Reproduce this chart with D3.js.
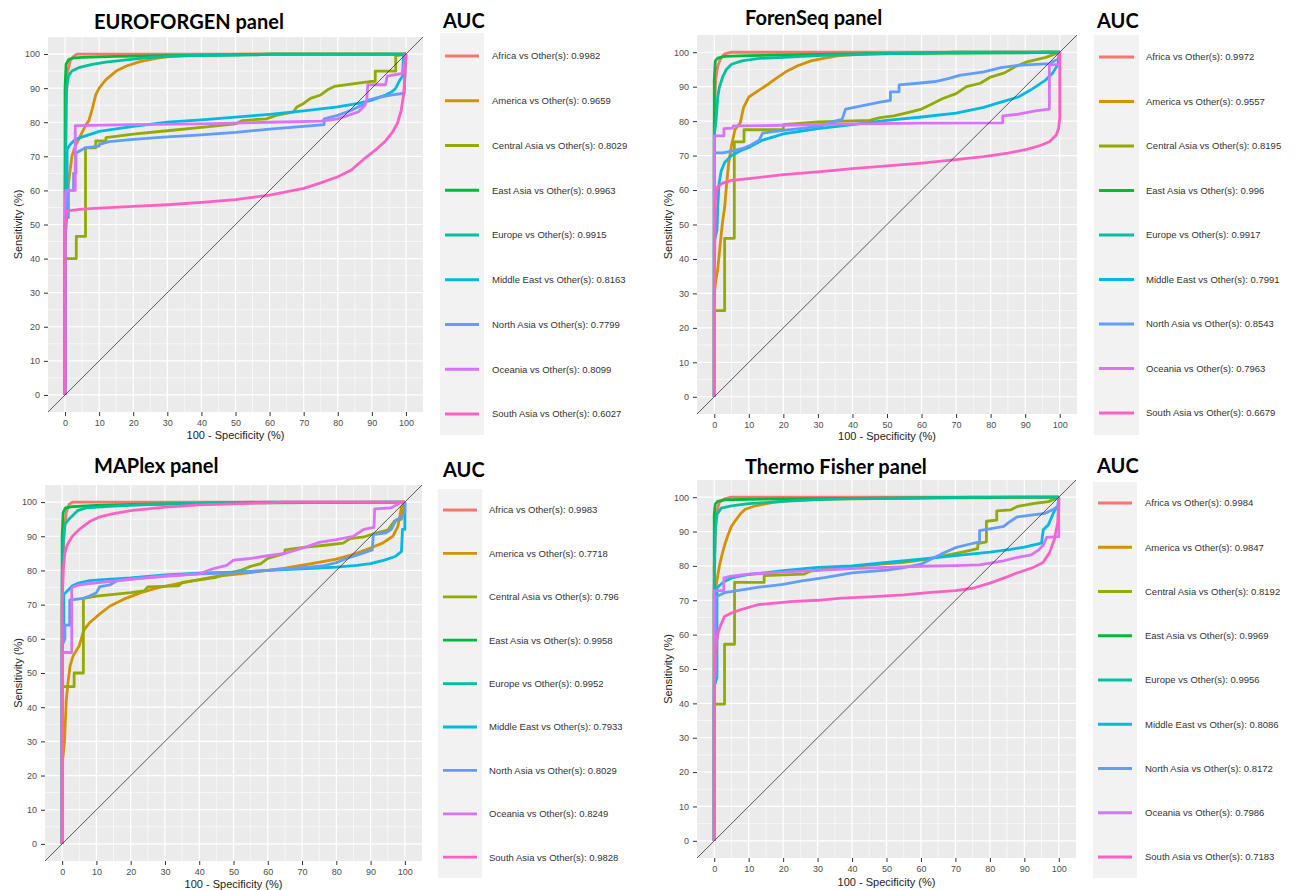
<!DOCTYPE html>
<html lang="en">
	<head>
		<meta charset="UTF-8" />
		<title>ROC curves by panel</title>
		<script src="https://d3js.org/d3.v7.min.js"></script>
		<style>
			body {
				margin: 0;
				background: #fff;
			}
			svg {
				display: block;
			}
			.tick text {
				font-family: 'Liberation Sans', Arial, sans-serif;
				font-size: 9px;
				fill: #4d4d4d;
			}
			.tick line {
				stroke: #333;
			}
			.panel-title,
			.auc-title {
				font-family: Lato, 'Open Sans', sans-serif;
				font-weight: bold;
				font-size: 20px;
				fill: #000;
			}
			.axis-title {
				font-family: 'Liberation Sans', Arial, sans-serif;
				font-size: 11px;
				fill: #222;
			}
			.legend-label {
				font-family: 'Liberation Sans', Arial, sans-serif;
				font-size: 9.5px;
				fill: #333;
			}
		</style>
	</head>
	<body>
		<svg id="chart" width="1296" height="890"></svg>

		<script>
			// categories and their ggplot hue colours
			const regions = ['Africa', 'America', 'Central Asia', 'East Asia', 'Europe', 'Middle East', 'North Asia', 'Oceania', 'South Asia']
			const regionColors = ['#F8766D', '#D39200', '#93AA00', '#00BA38', '#00C19F', '#00B9E3', '#619CFF', '#DB72FB', '#FF61C3']

			const panelTitles = ['EUROFORGEN panel', 'ForenSeq panel', 'MAPlex panel', 'Thermo Fisher panel']
			const axisTicks = [0, 10, 20, 30, 40, 50, 60, 70, 80, 90, 100]

			// AUC per region, same order as regions
			const aucEuroforgen = ['0.9982', '0.9659', '0.8029', '0.9963', '0.9915', '0.8163', '0.7799', '0.8099', '0.6027']
			const aucForenseq = ['0.9972', '0.9557', '0.8195', '0.996', '0.9917', '0.7991', '0.8543', '0.7963', '0.6679']
			const aucMaplex = ['0.9983', '0.7718', '0.796', '0.9958', '0.9952', '0.7933', '0.8029', '0.8249', '0.9828']
			const aucThermo = ['0.9984', '0.9847', '0.8192', '0.9969', '0.9956', '0.8086', '0.8172', '0.7986', '0.7183']

			// ROC points [100 - specificity, sensitivity]
			const rocEuroforgen = [
				[[0,0],[0,60],[0.3,85],[0.8,95],[1.5,98],[2.5,99.3],[3.5,100],[100,100]],
				[[0,0],[0,45],[0.5,52],[1,62],[1.5,66],[2,70],[3,73],[4,75],[5,77],[6,79],[7,80.5],[8,84],[9,88],[10,90],[12,92.5],[15,95],[18,96.5],[22,97.8],[27,98.8],[32,99.5],[40,99.8],[55,100],[100,100]],
				[[0,0],[0,40],[3.3,40],[3.3,46.5],[6,46.5],[6,72.5],[9,72.5],[9,74.5],[12,74.5],[12,75.5],[20,76.5],[30,77.5],[40,78.5],[50,79.5],[52,80.5],[59,81],[62,82],[67,83],[68,84.5],[70,85.5],[72,87],[75,88],[77,89.5],[79,90.5],[86,91.5],[90,92],[91,92],[91,95],[97,95],[97,99.5],[100,100]],
				[[0,0],[0,90],[0.3,97],[1,98.3],[2,98.8],[5,99],[15,99.3],[30,99.5],[57,99.8],[60,100],[100,100]],
				[[0,0],[0.2,70],[0.4,90],[1,93.5],[2,95],[4,96],[8,97],[12,97.6],[18,98.3],[25,99],[35,99.5],[50,99.8],[60,100],[100,100]],
				[[0,0],[0,50],[0.6,52],[0.6,72],[1.5,73.5],[3,75],[6,76],[10,77.3],[20,78.8],[30,80],[40,80.7],[50,81.5],[60,82.3],[70,83.3],[80,84.5],[86,85.5],[90,86.5],[94,88],[96,89],[97,90],[98,92],[99,93.5],[99.3,100],[100,100]],
				[[0,0],[0,52],[1,52],[1,60],[2.5,60],[2.5,65],[3.2,65],[3.2,71],[6,72.5],[10,73],[10,73.5],[13,74.3],[20,75],[30,75.7],[40,76.3],[50,77],[60,78],[70,78.8],[76,79.3],[76,81],[80,82],[84,83.5],[87,85],[89,86.5],[92,87.3],[96,88],[99.5,88.5],[100,100]],
				[[0,0],[0,54],[0.2,60],[3,60],[3,79],[20,79.3],[40,79.5],[60,80],[75,80.3],[80,81],[83,82],[86,83],[88,85],[88.5,86.5],[88.8,91],[94,91],[94.5,93.5],[99,94.3],[100,100]],
				[[0,0],[0,50],[0.5,54],[5,54.5],[10,54.8],[20,55.3],[30,55.8],[40,56.5],[50,57.3],[60,58.6],[70,60.6],[75,62.2],[80,64],[84,66],[88,69.5],[91,71.8],[94,74.5],[96,77],[97.5,79.7],[98.6,83.5],[99.3,88],[99.6,92],[100,100]]
			]

			const rocForenseq = [
				[[0,0],[0,80],[0.4,92],[1,96],[2,98.5],[3,99.5],[5,100],[100,100]],
				[[0,0],[0,30],[0.5,34],[1,37],[1.5,42],[2.3,50],[3,55],[3.6,62],[4.2,68],[5,73],[6,77.5],[7.5,79.5],[8.5,84],[10,87],[13,89],[16,91],[18,92.5],[21,94.5],[24,96],[28,97.5],[32,98.3],[36,99],[45,99.5],[60,99.8],[70,100],[100,100]],
				[[0,0],[0,25],[3,25],[3,46],[5.8,46],[5.8,74],[8.6,74],[8.6,77.5],[20,77.5],[20,79],[30,79.8],[45,80.2],[48,81],[52,81.5],[56,82.5],[60,83.5],[63,85],[66,86.5],[70,88],[73,90],[77,91],[80,92.8],[84,94],[87.5,96],[90.5,97.2],[96,98.5],[100,100]],
				[[0,0],[0,92],[0.3,97.5],[1,98.3],[3,98.8],[10,99],[25,99.3],[45,99.6],[90,99.8],[95,100],[100,100]],
				[[0,0],[0,76],[0.5,80],[1,87],[1.5,90],[2.5,93],[3.5,95],[5,96.5],[8,97.5],[13,98.2],[20,98.5],[30,99],[40,99.3],[55,99.7],[70,100],[100,100]],
				[[0,0],[0,45],[0.8,48.5],[1,55],[1.4,62],[2,65.5],[3,68],[5,70],[8,71.6],[10.5,72.6],[14,74.5],[20,76.3],[30,77.8],[40,79],[50,80.2],[60,81.2],[70,82.3],[78,84],[83,85.5],[88,87],[92,89.3],[96,92],[98,94],[99.5,96.5],[100,100]],
				[[0,0],[0,70.8],[2.5,70.8],[5,71.3],[8,72],[10.5,73],[13,74.5],[14,76.5],[20,77.3],[26,78],[31,78.6],[34,79.8],[37,80.5],[38,83.5],[43,84.5],[48,85.5],[51,86],[51,88.5],[53.5,88.5],[53.5,90.5],[59,91],[64,91.5],[68,92.4],[71,93.3],[78,94.3],[83,95.5],[88,96.2],[97,96.7],[99.5,98],[100,100]],
				[[0,0],[0,75.7],[2.8,75.7],[2.8,77.8],[5.3,78],[5.5,78.6],[20,78.8],[40,79.2],[60,79.4],[83.5,79.5],[83.5,81.5],[88,82],[93,83],[97,83.5],[97,96.3],[100,96.5],[100,100]],
				[[0,0],[0,30],[0.3,57],[1,61],[2.4,62],[5,62.8],[10,63.3],[20,64.5],[30,65.3],[40,66.2],[50,67],[60,67.8],[70,68.8],[78,69.7],[85,70.7],[90,71.7],[94,72.8],[97,74],[99,76],[99.7,78],[100,81],[100,100]]
			]

			const rocMaplex = [
				[[0,0],[0,70],[0.5,90],[1.2,97],[2,99.3],[3,100],[100,100]],
				[[0,0],[0,23],[0.7,30],[1.2,42],[1.8,48],[2.3,52],[3.2,55],[5,58],[6.3,62.5],[8,64.7],[11,67.3],[14,69.6],[18,71.6],[23,73.5],[28,75],[35,76.4],[45,78.3],[55,79.4],[65,80.7],[74,82.2],[80,83.3],[85,84.7],[89,86.2],[93.5,88],[96.5,90],[98,93],[99,98.5],[100,100]],
				[[0,0],[0,46],[3.5,46],[3.5,50],[6.2,50],[6.2,71.8],[10,72.5],[15,73],[20,73.5],[24,74],[25,75.2],[34,75.5],[35,76.5],[45,78],[48,79],[52,80],[55,81.2],[58,82],[60,83.5],[65,85],[65,86],[71,86.8],[76,87.3],[82,88],[84,89.3],[88,89.8],[91,90.8],[95,91.8],[97,94.5],[99,95],[100,100]],
				[[0,0],[0,90],[0.3,97],[1,98.3],[3,98.7],[10,99],[20,99.3],[40,99.6],[60,99.8],[100,100]],
				[[0,0],[0,77],[0.3,88],[0.8,93.5],[2,95],[3,96],[4.5,97.5],[7,98.3],[15,98.8],[25,99.3],[40,99.7],[60,100],[100,100]],
				[[0,0],[0,58],[0.5,60],[0.5,73],[1.5,74],[3,75.5],[5,76.4],[8,77],[12,77.3],[20,77.8],[30,78.7],[40,79.2],[50,79.5],[60,80],[70,80.5],[80,81],[86,81.5],[90,82],[94,83],[97,84],[99,85.5],[99.3,92],[100,92],[100,100]],
				[[0,0],[0,58],[0.8,60],[0.8,64],[2.2,64],[2.2,71.3],[6,71.8],[8,72.5],[10,73.5],[11,75.3],[14,75.8],[16,77],[20,77.5],[30,78.5],[40,79],[50,79.3],[60,80],[70,80.8],[76,81.3],[80,82.3],[83,83.5],[86,84.5],[89,85.5],[90.5,86],[90.8,90.5],[94.5,91],[96,92],[97.5,94.8],[99,95.5],[100,97],[100,100]],
				[[0,0],[0,56],[2.8,56],[2.8,75],[5,75.8],[10,76.4],[20,77.4],[30,78.3],[40,79],[44,80.5],[48,81.5],[50,83],[55,83.5],[60,84.3],[65,85],[70,86.5],[75,88.2],[80,89],[85,90],[88,92],[91,92.6],[91.2,98],[96,98.3],[99,100],[100,100]],
				[[0,0],[0,70],[0.3,80],[0.8,85],[1.5,87.5],[3,90],[5,92],[8,94.3],[11,95.7],[15,96.6],[20,97.5],[25,98],[30,98.5],[40,99.2],[50,99.5],[60,99.8],[65,100],[100,100]]
			]

			const rocThermo = [
				[[0,0],[0,80],[0.5,95],[1.5,98.5],[3,99.5],[5,100],[100,100]],
				[[0,0],[0,72],[0.5,74],[1,77],[1.5,80],[2.2,83],[3,86],[4,89],[5,91.5],[6,93],[7.5,95],[9,96.5],[12,97.5],[17,98.5],[22,99],[30,99.4],[40,99.5],[60,99.7],[100,100]],
				[[0,0],[0,39.8],[3,39.8],[3,57.2],[5.9,57.2],[5.9,75.2],[14.5,75.2],[14.5,77.2],[26,77.6],[28,78.5],[35,79.5],[45,80.2],[55,81],[62,82],[67,83],[72,84],[76.5,85],[76.5,86.5],[79,87],[79,93],[82,93.3],[82,96],[86,96.3],[88,97.3],[93,98.2],[97,98.7],[100,100]],
				[[0,0],[0,95],[0.3,98],[1,98.8],[3,99.2],[10,99.4],[30,99.6],[60,99.8],[88,100],[100,100]],
				[[0,0],[0,73],[0.3,90],[0.8,95],[2,96.8],[5,97.5],[10,98.1],[20,98.8],[30,99.3],[40,99.6],[60,99.8],[75,100],[100,100]],
				[[0,0],[0,45],[0.8,47.5],[0.8,73.5],[1.5,74.3],[3,75.5],[5,76.5],[10,77.5],[20,78.6],[30,79.6],[40,80],[50,81],[60,82],[70,83],[80,84],[86,84.8],[90,85.5],[95,86.6],[95.5,90.5],[97,92],[98.7,96],[99.7,97.4],[100,100]],
				[[0,0],[0,48],[0.5,48],[0.5,71],[3,72.2],[8,73],[13,73.8],[20,74.6],[25,75.6],[32,76.6],[40,78],[50,78.8],[55,79.5],[60,80.5],[63,82],[66,83.5],[70,85.3],[74,86.3],[77,87],[77,90.3],[80,90.8],[84,91.5],[86,93],[88,94.3],[92,94.8],[96,95.3],[98.5,96.5],[100,97.5],[100,100]],
				[[0,0],[0,72.8],[2.8,72.8],[2.8,76.5],[5,77],[10,77.6],[20,78.2],[30,78.7],[40,79.2],[50,79.6],[60,79.9],[70,80.1],[77,80.3],[80,80.8],[84,81.5],[88,82.5],[92,83.2],[94,84.5],[95.5,86],[96.5,88.3],[100,88.5],[100,100]],
				[[0,0],[0,40],[0.3,55],[0.7,58],[1.1,60.6],[2,63],[3,65.3],[5,66.3],[7.8,67.3],[12.6,68.7],[16,69],[22,69.6],[30,70],[37,70.6],[45,71],[55,71.6],[62,72.2],[70,72.8],[75,73.5],[80,75],[85,76.8],[88,78],[92.5,79.5],[95.4,81],[97.3,83.8],[98.7,87.7],[99.7,92.6],[100,100]]
			]

			const panelAuc = [aucEuroforgen, aucForenseq, aucMaplex, aucThermo]
			const panelRoc = [rocEuroforgen, rocForenseq, rocMaplex, rocThermo]

			// where each panel sits on the page
			const layout = [
				{ left: 48, right: 423, top: 37, bottom: 412, titleX: 94, titleY: 29, aucX: 443, aucY: 28, boxX: 440, boxW: 44, boxTop: 33, boxBottom: 435, keyY0: 56, keyStep: 44.75, labelX: 492, yTitleX: 18, xTitleY: 439 },
				{ left: 697, right: 1077, top: 35, bottom: 414, titleX: 745, titleY: 25, aucX: 1097, aucY: 28, boxX: 1094, boxW: 45, boxTop: 35, boxBottom: 435, keyY0: 57, keyStep: 44.5, labelX: 1146, yTitleX: 668, xTitleY: 440 },
				{ left: 45, right: 422, top: 485, bottom: 861, titleX: 94, titleY: 473, aucX: 443, aucY: 477, boxX: 438, boxW: 44, boxTop: 489, boxBottom: 878, keyY0: 510, keyStep: 43.4, labelX: 489, yTitleX: 18, xTitleY: 888 },
				{ left: 697, right: 1076, top: 480, bottom: 858, titleX: 745, titleY: 474, aucX: 1097, aucY: 473, boxX: 1093, boxW: 44, boxTop: 482, boxBottom: 878, keyY0: 503, keyStep: 44.25, labelX: 1145, yTitleX: 668, xTitleY: 886 }
			]

			var svg = d3.select('#chart')
			var color = d3.scaleOrdinal().domain(regions).range(regionColors)
			var minorTicks = d3.range(5, 100, 10)

			function drawPanel(i) {
				var L = layout[i]
				var x = d3.scaleLinear().domain([-5, 105]).range([L.left, L.right])
				var y = d3.scaleLinear().domain([-5, 105]).range([L.bottom, L.top])
				var g = svg.append('g')

				// panel background
				g.append('rect')
					.attr('x', L.left)
					.attr('y', L.top)
					.attr('width', L.right - L.left)
					.attr('height', L.bottom - L.top)
					.attr('fill', '#EBEBEB')

				// grid lines
				g.selectAll('.vminor').data(minorTicks).enter().append('line')
					.attr('x1', d => x(d)).attr('x2', d => x(d))
					.attr('y1', L.top).attr('y2', L.bottom)
					.attr('stroke', '#fff').attr('stroke-width', 0.6)
				g.selectAll('.hminor').data(minorTicks).enter().append('line')
					.attr('y1', d => y(d)).attr('y2', d => y(d))
					.attr('x1', L.left).attr('x2', L.right)
					.attr('stroke', '#fff').attr('stroke-width', 0.6)
				g.selectAll('.vmajor').data(axisTicks).enter().append('line')
					.attr('x1', d => x(d)).attr('x2', d => x(d))
					.attr('y1', L.top).attr('y2', L.bottom)
					.attr('stroke', '#fff').attr('stroke-width', 1.2)
				g.selectAll('.hmajor').data(axisTicks).enter().append('line')
					.attr('y1', d => y(d)).attr('y2', d => y(d))
					.attr('x1', L.left).attr('x2', L.right)
					.attr('stroke', '#fff').attr('stroke-width', 1.2)

				// clip for the curves
				var clipId = 'clip' + i
				svg.append('clipPath').attr('id', clipId).append('rect')
					.attr('x', L.left).attr('y', L.top)
					.attr('width', L.right - L.left).attr('height', L.bottom - L.top)

				var line = d3.line().x(d => x(d[0])).y(d => y(d[1]))
				var curves = g.append('g').attr('clip-path', 'url(#' + clipId + ')')

				curves.selectAll('path.roc')
					.data(panelRoc[i])
					.enter()
					.append('path')
					.attr('class', 'roc')
					.attr('d', line)
					.attr('fill', 'none')
					.attr('stroke', (d, j) => color(regions[j]))
					.attr('stroke-width', 2.8)
					.attr('stroke-linejoin', 'round')

				// reference diagonal
				curves.append('line')
					.attr('x1', x(-5)).attr('y1', y(-5))
					.attr('x2', x(105)).attr('y2', y(105))
					.attr('stroke', '#333').attr('stroke-width', 0.8)

				// axes
				var xAxis = d3.axisBottom(x).tickValues(axisTicks).tickSize(4).tickPadding(4)
				var yAxis = d3.axisLeft(y).tickValues(axisTicks).tickSize(4).tickPadding(4)
				g.append('g').attr('transform', 'translate(0,' + L.bottom + ')').call(xAxis)
					.call(a => a.select('.domain').remove())
				g.append('g').attr('transform', 'translate(' + L.left + ',0)').call(yAxis)
					.call(a => a.select('.domain').remove())

				// axis titles
				g.append('text').attr('class', 'axis-title')
					.attr('x', (L.left + L.right) / 2).attr('y', L.xTitleY)
					.attr('text-anchor', 'middle')
					.text('100 - Specificity (%)')
				g.append('text').attr('class', 'axis-title')
					.attr('transform', 'translate(' + L.yTitleX + ',' + (L.top + L.bottom) / 2 + ') rotate(-90)')
					.attr('text-anchor', 'middle')
					.attr('dy', '0.35em')
					.text('Sensitivity (%)')

				// panel title
				g.append('text').attr('class', 'panel-title')
					.attr('x', L.titleX).attr('y', L.titleY)
					.text(panelTitles[i])

				// legend
				g.append('text').attr('class', 'auc-title')
					.attr('x', L.aucX).attr('y', L.aucY)
					.text('AUC')
				g.append('rect')
					.attr('x', L.boxX).attr('y', L.boxTop)
					.attr('width', L.boxW).attr('height', L.boxBottom - L.boxTop)
					.attr('fill', '#F2F2F2')

				var items = g.selectAll('.legend-item')
					.data(regions)
					.enter()
					.append('g')
					.attr('transform', (d, j) => 'translate(0,' + (L.keyY0 + j * L.keyStep) + ')')
				items.append('line')
					.attr('x1', L.boxX + 5).attr('x2', L.boxX + L.boxW - 5)
					.attr('stroke', d => color(d))
					.attr('stroke-width', 2.8)
				items.append('text').attr('class', 'legend-label')
					.attr('x', L.labelX)
					.attr('dy', '0.35em')
					.text((d, j) => d + ' vs Other(s): ' + panelAuc[i][j])
			}

			for (var i = 0; i < panelTitles.length; i++) {
				drawPanel(i)
			}
		</script>
	</body>
</html>
